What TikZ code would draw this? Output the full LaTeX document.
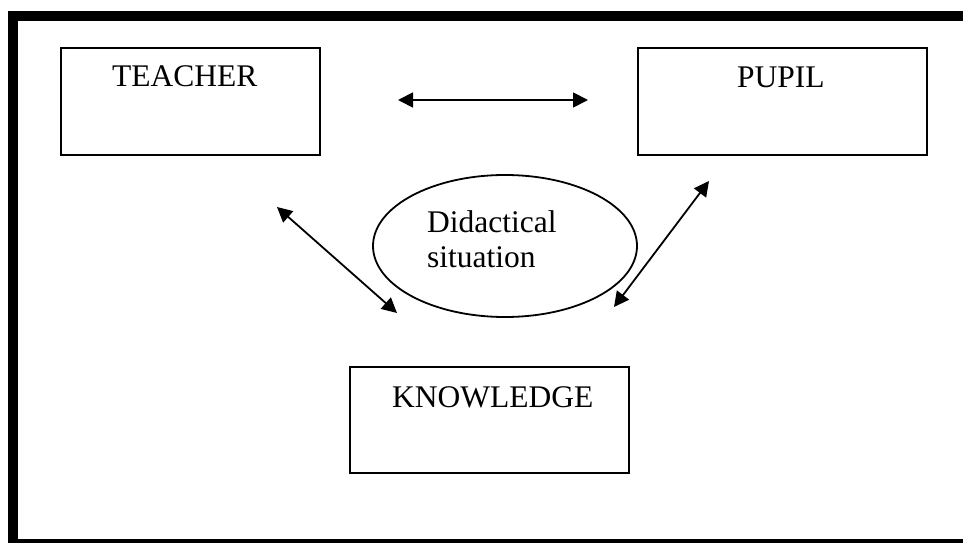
\documentclass[tikz,border=0pt]{standalone}
\usepackage{fontspec}
\setmainfont{Liberation Serif}
\usetikzlibrary{arrows.meta,shapes.geometric}
\begin{document}
\begin{tikzpicture}[x=1bp,y=-1bp,
  frame/.style={line width=10bp},
  box/.style={draw,line width=1.8bp,rectangle,inner sep=0pt,anchor=north west},
  lbl/.style={inner sep=0pt,anchor=base west,font=\fontsize{31.5bp}{35bp}\selectfont},
  link/.style={line width=1.8bp,{Triangle[length=15bp,width=15bp]}-{Triangle[length=15bp,width=15bp]}}]
  \useasboundingbox (0,0) rectangle (963,543);
  \clip (0,0) rectangle (963,543);
  % heavy outer frame (runs off the right and bottom edges)
  \draw[frame] (13,16) rectangle (990,544);
  % the three poles
  \node[box,minimum width=259bp,minimum height=107bp] (teacher) at (60,47) {};
  \node[lbl] (teachertxt) at (112,87) {TEACHER};
  \node[box,minimum width=289bp,minimum height=107bp] (pupil) at (637,47) {};
  \node[lbl] (pupiltxt) at (737,88) {PUPIL};
  \node[box,minimum width=279bp,minimum height=106bp] (knowledge) at (349,366) {};
  \node[lbl] (knowtxt) at (392,407) {KNOWLEDGE};
  % the didactical situation in the middle
  \node[draw,ellipse,line width=1.8bp,minimum width=264bp,minimum height=142bp,inner sep=0pt] (sit) at (505,246) {};
  \node[lbl] (sittxt1) at (427,233) {Didactical};
  \node[lbl] (sittxt2) at (427,268) {situation};
  % relations
  \coordinate (tp1) at (398,100);
  \coordinate (tp2) at (588,100);
  \coordinate (tk1) at (277,207);
  \coordinate (tk2) at (397,313);
  \coordinate (pk1) at (709,181);
  \coordinate (pk2) at (614,307);
  \draw[link] (tp1) -- (tp2);
  \draw[link] (tk1) -- (tk2);
  \draw[link] (pk1) -- (pk2);
\end{tikzpicture}
\end{document}
